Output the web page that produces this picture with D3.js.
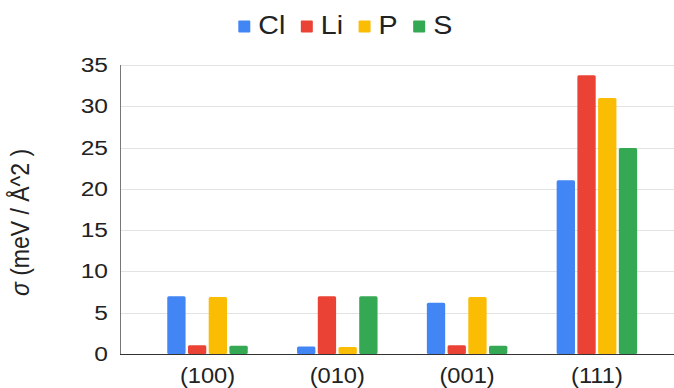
<!DOCTYPE html>
<html>
<head>
<meta charset="utf-8">
<script src="https://cdn.jsdelivr.net/npm/d3@7"></script>
<style>
  html, body { margin: 0; padding: 0; background: #fff; }
  svg { display: block; font-family: "Liberation Sans", Arial, sans-serif; }
</style>
</head>
<body>
<svg id="chart" width="674" height="388"></svg>
<script>
// Surface orientations and the per-element values of sigma (meV / Å^2)
const categories = ["(100)", "(010)", "(001)", "(111)"];
const seriesNames = ["Cl", "Li", "P", "S"];
const seriesColors = ["#4285F4", "#EA4335", "#FBBC04", "#34A853"];
const clValues = [7.0, 0.9, 6.2, 21.05];
const liValues = [1.05, 7.0, 1.05, 33.75];
const pValues = [6.9, 0.85, 6.9, 31.0];
const sValues = [1.0, 7.0, 1.0, 24.95];
const yTicks = [0, 5, 10, 15, 20, 25, 30, 35];

const seriesValues = [clValues, liValues, pValues, sValues];
const rows = categories.map((c, i) => ({
  category: c,
  values: seriesNames.map((s, j) => ({ key: s, value: seriesValues[j][i], color: seriesColors[j] }))
}));

const svg = d3.select("#chart");
const plotLeft = 120, plotRight = 674, plotTop = 65, plotBottom = 354;
const textColor = "#222";

const y = d3.scaleLinear().domain([0, 35]).range([plotBottom, plotTop]);
const x0 = d3.scaleBand().domain(categories).range([142.6, 661.8])
  .paddingInner(0.38).paddingOuter(0.19);
const x1 = d3.scaleBand().domain(seriesNames).range([0, x0.bandwidth()])
  .paddingInner(0.116).paddingOuter(0);

// Horizontal gridlines
svg.append("g")
  .selectAll("line")
  .data(yTicks.filter(t => t > 0))
  .join("line")
  .attr("x1", plotLeft).attr("x2", plotRight)
  .attr("y1", d => Math.round(y(d)) + 0.5).attr("y2", d => Math.round(y(d)) + 0.5)
  .attr("stroke", "#e3e3e3").attr("stroke-width", 1);

// Y axis tick labels (type is slightly wide)
const yStretch = 1.2;
const yAxis = d3.axisLeft(y).tickValues(yTicks).tickSize(0).tickPadding(12);
const yG = svg.append("g").attr("transform", `translate(${plotLeft},0)`).call(yAxis);
yG.select(".domain").remove();
yG.selectAll("text")
  .attr("font-size", 20.5).attr("fill", textColor)
  .attr("font-family", "'Liberation Sans', Arial, sans-serif")
  .attr("x", -12 / yStretch)
  .attr("transform", `scale(${yStretch},1)`);

// Left axis line
svg.append("line")
  .attr("x1", plotLeft + 0.5).attr("x2", plotLeft + 0.5)
  .attr("y1", plotTop).attr("y2", plotBottom)
  .attr("stroke", "#777").attr("stroke-width", 1);

// Bars
const groups = svg.append("g")
  .selectAll("g")
  .data(rows)
  .join("g")
  .attr("transform", d => `translate(${x0(d.category)},0)`);

groups.selectAll("rect")
  .data(d => d.values)
  .join("rect")
  .attr("x", d => x1(d.key))
  .attr("width", x1.bandwidth())
  .attr("y", d => y(d.value))
  .attr("height", d => y(0) - y(d.value))
  .attr("rx", 1.5)
  .attr("fill", d => d.color);

// Baseline
svg.append("line")
  .attr("x1", plotLeft).attr("x2", plotRight)
  .attr("y1", plotBottom + 0.5).attr("y2", plotBottom + 0.5)
  .attr("stroke", "#333").attr("stroke-width", 1);

// X axis category labels
const xStretch = 1.1;
const xAxis = d3.axisBottom(x0).tickSize(0);
const xG = svg.append("g").attr("transform", `translate(0,${plotBottom})`).call(xAxis);
xG.select(".domain").remove();
xG.selectAll("text")
  .attr("font-size", 21.5).attr("fill", textColor)
  .attr("font-family", "'Liberation Sans', Arial, sans-serif")
  .attr("y", 29).attr("dy", 0)
  .attr("transform", `scale(${xStretch},1)`);

// Y axis title
const titleStretch = 1.15;
const yTitle = svg.append("text")
  .attr("transform", `translate(29,222.5) rotate(-90) scale(1,${titleStretch})`)
  .attr("text-anchor", "middle")
  .attr("font-size", 23).attr("fill", textColor);
yTitle.append("tspan").attr("font-style", "italic").text("σ");
yTitle.append("tspan").text(" (meV / Å^2 )");

// Legend
const legendStretch = 1.1;
const legend = svg.append("g").attr("transform", "translate(238.3,0)");
let lx = 0;
seriesNames.forEach((name, i) => {
  const g = legend.append("g").attr("transform", `translate(${lx},0)`);
  g.append("rect").attr("x", 0).attr("y", 20.5).attr("width", 12).attr("height", 12)
    .attr("rx", 1).attr("fill", seriesColors[i]);
  const t = g.append("text")
    .attr("transform", `translate(20,34) scale(${legendStretch},1)`)
    .attr("font-size", 26).attr("fill", textColor).text(name);
  const w = t.node().getComputedTextLength() * legendStretch;
  lx += 20 + w + 15.5;
});
</script>
</body>
</html>
